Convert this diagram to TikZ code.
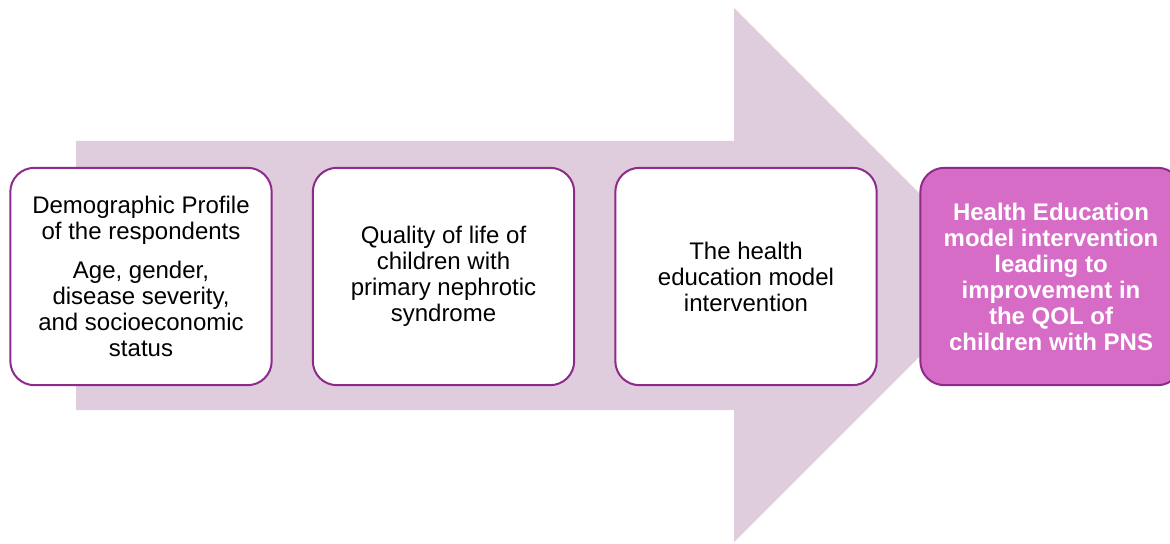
\documentclass[tikz,border=0pt]{standalone}
\usepackage{fontspec}
\setmainfont{Liberation Sans}
\definecolor{arrowfill}{HTML}{DFCCDC}
\definecolor{boxline}{HTML}{8E2A8C}
\definecolor{goalfill}{HTML}{D66CC6}
\tikzset{
  stage/.style={draw=boxline, line width=1.5pt, fill=white, rounded corners=18pt,
    minimum width=196pt, minimum height=163pt, inner sep=2pt, align=center,
    font=\fontsize{18}{19.5}\selectfont},
  goal/.style={stage, fill=goalfill, text=white, font=\fontsize{18}{19.5}\selectfont\bfseries},
}

\begin{document}
\begin{tikzpicture}[x=0.75pt,y=0.75pt]
\clip (0,0) rectangle (1170,543);
\fill[arrowfill] (76,402) -- (734,402) -- (734,535) -- (1001,268) -- (734,1) -- (734,133) -- (76,133) -- cycle;
\node[stage] (demo) at (141,266.5) {Demographic Profile\\of the respondents\\[9.75pt]Age, gender,\\disease severity,\\and socioeconomic\\status};
\node[stage] (qol) at (443.5,266.5) {Quality of life of\\children with\\primary nephrotic\\syndrome};
\node[stage] (model) at (746,266.5) {The health\\education model\\intervention};
\node[goal] (result) at (1051,266.5) {Health Education\\model intervention\\leading to\\improvement in\\the QOL of\\children with PNS};
\end{tikzpicture}
\end{document}
